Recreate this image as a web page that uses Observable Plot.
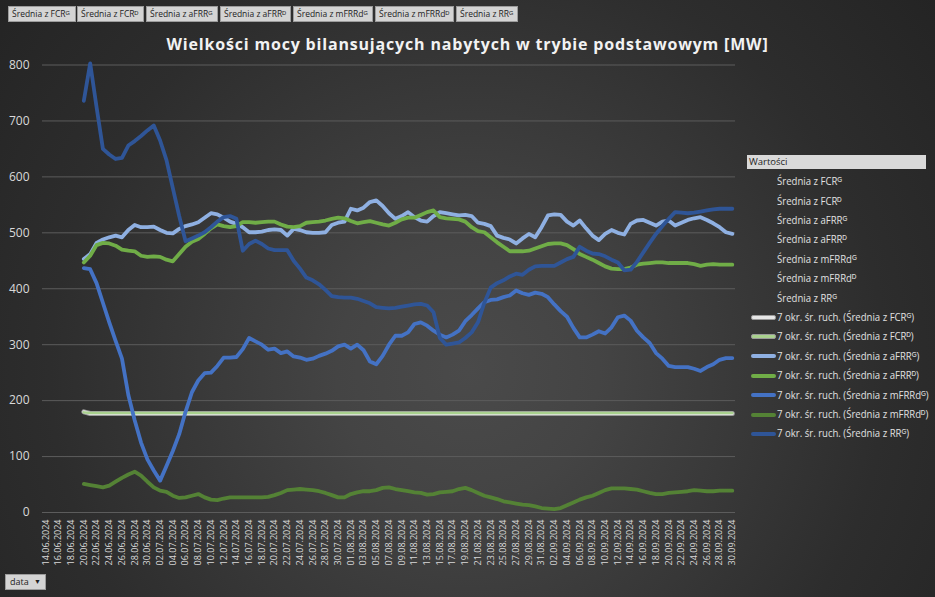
<!DOCTYPE html>
<html><head><meta charset="utf-8">
<script src="https://cdn.jsdelivr.net/npm/d3@7"></script>
<script src="https://cdn.jsdelivr.net/npm/@observablehq/plot@0.6"></script>
<style>
body{margin:0;background:#222;}
#wrap{position:relative;width:935px;height:597px;overflow:hidden;
 background:radial-gradient(circle at 50% 62%, #4a4a4a 0%, #444 22%, #393939 45%, #2d2d2d 70%, #242424 100%);
 font-family:"Open Sans",sans-serif;}
#chart{position:absolute;left:0;top:0;}
.btn{position:absolute;top:6px;height:16px;background:#d4d4d4;border:1px solid #9c9c9c;box-sizing:border-box;
 font-size:8.5px;line-height:14px;color:#1e1e1e;padding-left:3px;white-space:nowrap;overflow:hidden;}
#title{position:absolute;left:0;width:935px;top:33px;text-align:center;color:#f2f2f2;font-weight:bold;font-size:16px;letter-spacing:0.82px;white-space:nowrap;}
.hdr{position:absolute;left:747px;top:155px;width:179px;height:14px;background:#d9d9d9;color:#1e1e1e;font-size:9.5px;line-height:14px;padding-left:2px;box-sizing:border-box;}
.lt{position:absolute;left:777px;color:#e0e0e0;font-size:11px;font-family:"Open Sans",sans-serif;white-space:nowrap;line-height:12px;transform:scaleX(0.87);transform-origin:0 50%;}
.sw{position:absolute;left:751px;width:25px;height:4px;box-sizing:border-box;border-radius:2px;}
#data{position:absolute;left:5px;top:574px;width:41px;height:16px;background:#d4d4d4;border:1px solid #9c9c9c;box-sizing:border-box;font-size:9px;line-height:14px;color:#1e1e1e;padding-left:4px;}
#data span{position:absolute;right:4px;top:0;font-size:7px;}
</style></head>
<body><div id="wrap"></div>
<script>
// ---- data ----
const startDate = "2024-06-14";
const endDate = "2024-09-30";
const firstSeriesDay = 6; // moving average starts on 20.06.2024
const yTicks = [0,100,200,300,400,500,600,700,800];

const buttonLabels = ["Średnia z FCRᴳ","Średnia z FCRᴰ","Średnia z aFRRᴳ","Średnia z aFRRᴰ","Średnia z mFRRdᴳ","Średnia z mFRRdᴰ","Średnia z RRᴳ"];
const seriesNames = ["7 okr. śr. ruch. (Średnia z FCRᴳ)","7 okr. śr. ruch. (Średnia z FCRᴰ)","7 okr. śr. ruch. (Średnia z aFRRᴳ)","7 okr. śr. ruch. (Średnia z aFRRᴰ)","7 okr. śr. ruch. (Średnia z mFRRdᴳ)","7 okr. śr. ruch. (Średnia z mFRRdᴰ)","7 okr. śr. ruch. (Średnia z RRᴳ)"];
const seriesColors = ["#e6e6e6","#a9d18e","#8fb0e2","#70ad47","#4472c4","#548235","#2f5597"];

const fcrG = [180,177,177,177,177,177,177,177,177,177,177,177,177,177,177,177,177,177,177,177,177,177,177,177,177,177,177,177,177,177,177,177,177,177,177,177,177,177,177,177,177,177,177,177,177,177,177,177,177,177,177,177,177,177,177,177,177,177,177,177,177,177,177,177,177,177,177,177,177,177,177,177,177,177,177,177,177,177,177,177,177,177,177,177,177,177,177,177,177,177,177,177,177,177,177,177,177,177,177,177,177,177,177];
const fcrD = [179,178,178,178,178,178,178,178,178,178,178,178,178,178,178,178,178,178,178,178,178,178,178,178,178,178,178,178,178,178,178,178,178,178,178,178,178,178,178,178,178,178,178,178,178,178,178,178,178,178,178,178,178,178,178,178,178,178,178,178,178,178,178,178,178,178,178,178,178,178,178,178,178,178,178,178,178,178,178,178,178,178,178,178,178,178,178,178,178,178,178,178,178,178,178,178,178,178,178,178,178,178,178];
const afrrG = [453,462,482,488,492,495,492,505,514,510,
 510,511,505,500,499,507,512,515,519,527,
 535,533,527,520,516,510,501,501,502,505,
 506,505,495,507,505,501,500,500,501,514,
 518,520,543,540,545,555,558,548,535,525,
 530,537,528,522,520,530,537,535,533,531,
 532,530,518,516,512,495,491,488,481,490,
 498,492,510,531,533,532,520,513,522,508,
 495,487,498,505,500,497,516,522,523,518,
 513,520,522,513,518,523,526,528,523,517,
 510,501,498];
const afrrD = [447,459,478,482,481,477,470,468,467,459,
 457,458,457,452,449,462,475,484,489,498,
 508,515,512,510,512,519,519,518,519,520,
 520,515,511,510,512,518,519,520,522,525,
 527,526,521,517,519,521,518,515,513,518,
 524,527,527,532,537,540,528,526,525,524,
 520,510,503,501,492,483,475,467,467,467,
 468,472,476,480,481,481,478,471,462,457,
 452,446,440,436,435,435,438,443,445,446,
 447,447,446,446,446,446,444,441,443,444,
 443,443,443];
const mfrrdG = [437,435,410,375,340,307,275,210,165,125,
 95,75,57,83,110,140,180,215,236,249,
 250,262,277,277,278,292,312,306,300,291,
 293,285,288,279,277,273,275,280,284,289,
 297,300,293,300,290,270,265,280,300,316,
 316,322,337,340,334,325,318,313,318,325,
 342,353,365,376,380,381,385,388,397,392,
 389,393,391,385,372,360,350,330,313,313,
 318,324,320,331,349,352,343,325,313,303,
 285,275,262,260,260,260,257,253,260,265,
 273,276,276];
const mfrrdD = [51,49,47,45,48,55,62,68,73,66,
 55,45,39,37,30,26,27,30,33,27,
 23,22,25,27,27,27,27,27,27,28,
 31,35,40,41,42,41,40,38,35,31,
 27,27,33,36,38,38,40,44,45,42,
 40,38,36,35,32,33,36,37,38,42,
 44,40,35,30,27,24,20,18,16,14,
 13,11,8,7,6,8,13,18,23,27,
 30,35,40,43,43,43,42,41,38,35,
 33,33,35,36,37,38,40,39,38,38,
 39,39,39];
const rrG = [736,803,725,650,640,632,634,656,664,673,
 683,692,665,630,580,530,485,490,495,501,
 510,520,528,530,525,468,480,486,480,472,
 469,469,469,450,436,420,415,408,398,387,
 385,384,384,382,378,374,367,366,365,366,
 368,370,372,373,370,358,312,300,302,304,
 312,322,340,375,402,410,415,422,427,425,
 434,440,441,441,441,447,453,457,475,468,
 463,462,458,452,447,433,434,448,465,482,
 498,512,525,537,536,535,536,538,540,542,
 543,543,543];

const seriesValues = [fcrG, fcrD, afrrG, afrrD, mfrrdG, mfrrdD, rrG];

// ---- build ----
const parse = d3.utcParse("%Y-%m-%d");
const d0 = parse(startDate), d1 = parse(endDate);
const dates = d3.utcDay.range(d0, d3.utcDay.offset(d1, 1));
const tickDates = dates.filter((d, i) => i % 2 === 0);
const rows = seriesValues.flatMap((vals, s) => vals.map((v, i) => ({date: dates[i + firstSeriesDay], value: v, s})));

const wrap = document.getElementById("wrap");

const lineOpts = {curve: "linear", strokeLinejoin: "round", strokeLinecap: "round"};
const marks = [
  Plot.ruleY(yTicks, {stroke: "#5c5c5c", strokeWidth: 1}),
  Plot.axisY({ticks: yTicks, tickSize: 0, tickPadding: 13, fontSize: 12, fill: "#d9d9d9", label: null}),
  Plot.axisX({ticks: tickDates, tickFormat: d3.utcFormat("%d.%m.%Y"), tickRotate: -90, tickSize: 0, tickPadding: 7, fontSize: 9, fill: "#d9d9d9", label: null}),
  // FCR G with border
  Plot.line(rows.filter(r => r.s === 0), {x: "date", y: "value", stroke: "#9a9a9a", strokeWidth: 5, ...lineOpts}),
  Plot.line(rows.filter(r => r.s === 0), {x: "date", y: "value", stroke: seriesColors[0], strokeWidth: 3, ...lineOpts}),
  Plot.line(rows.filter(r => r.s === 1), {x: "date", y: "value", stroke: seriesColors[1], strokeWidth: 2.5, ...lineOpts}),
];
for (let s = 2; s < seriesValues.length; s++) {
  marks.push(Plot.line(rows.filter(r => r.s === s), {x: "date", y: "value", stroke: seriesColors[s], strokeWidth: 3.8, ...lineOpts}));
}

const chart = Plot.plot({
  width: 935, height: 597,
  marginLeft: 42, marginRight: 200, marginTop: 64.5, marginBottom: 85,
  style: {background: "transparent", color: "#d9d9d9", fontFamily: "Open Sans, sans-serif"},
  x: {type: "utc", domain: [d3.utcHour.offset(d0, -12), d3.utcHour.offset(d1, 12)], axis: null},
  y: {domain: [0, 800], axis: null},
  marks
});
chart.id = "chart";
wrap.appendChild(chart);

// title
const t = document.createElement("div");
t.id = "title";
t.textContent = "Wielkości mocy bilansujących nabytych w trybie podstawowym [MW]";
wrap.appendChild(t);

// pivot buttons
const btnLeft = [8, 77, 146, 220, 293, 375, 456];
const btnWidth = [68, 67, 72, 71, 80, 79, 62];
buttonLabels.forEach((lab, i) => {
  const b = document.createElement("div");
  b.className = "btn";
  b.style.left = btnLeft[i] + "px";
  b.style.width = btnWidth[i] + "px";
  b.textContent = lab;
  wrap.appendChild(b);
});

// legend
const hdr = document.createElement("div");
hdr.className = "hdr"; hdr.textContent = "Wartości";
wrap.appendChild(hdr);
const legendItems = buttonLabels.map(l => ({text: l, sw: null})).concat(seriesNames.map((n, i) => ({text: n, sw: i})));
legendItems.forEach((it, i) => {
  const cy = 181.7 + 19.4 * i;
  const e = document.createElement("div");
  e.className = "lt"; e.textContent = it.text;
  e.style.top = (cy - 6.5) + "px";
  wrap.appendChild(e);
  if (it.sw !== null) {
    const sw = document.createElement("div");
    sw.className = "sw";
    sw.style.top = (cy - 2) + "px";
    sw.style.background = seriesColors[it.sw];
    if (it.sw < 2) { sw.style.border = "1px solid #9a9a9a"; sw.style.height = "5px"; sw.style.top = (cy - 2.5) + "px"; }
    wrap.appendChild(sw);
  }
});

// data button
const db = document.createElement("div");
db.id = "data"; db.innerHTML = "data<span>▼</span>";
wrap.appendChild(db);
</script>
</body></html>
